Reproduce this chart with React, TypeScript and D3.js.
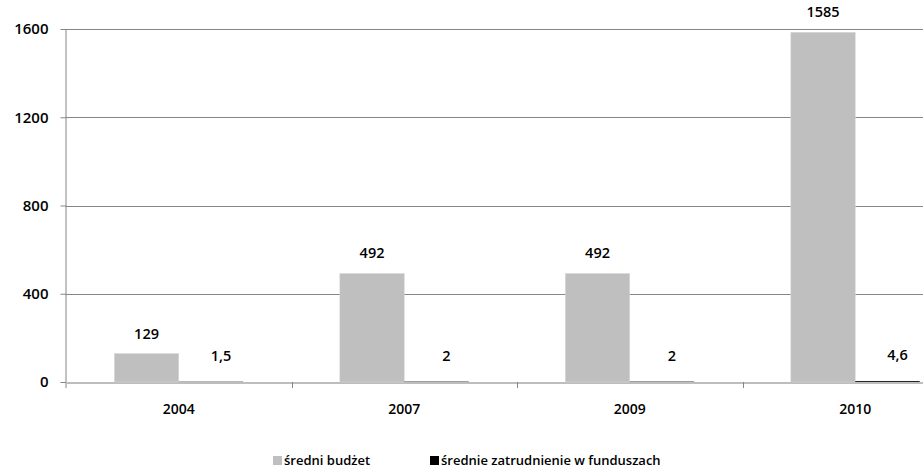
import React, { useRef, useEffect } from 'react';
import * as d3 from 'd3';

const categories = ['2004', '2007', '2009', '2010'];
const budget = [129, 492, 492, 1585];
const employment = [1.5, 2, 2, 4.6];
const seriesNames = ['średni budżet', 'średnie zatrudnienie w funduszach'];
const yTicks = [0, 400, 800, 1200, 1600];

const WIDTH = 923;
const HEIGHT = 470;
const FONT = '"Open Sans", sans-serif';

const App: React.FC = () => {
    const ref = useRef<SVGSVGElement>(null);

    useEffect(() => {
        if (!ref.current) return;
        const svg = d3.select(ref.current);
        svg.selectAll('*').remove();

        const left = 66;
        const step = 225.5;
        const x0 = d3.scaleBand()
            .domain(categories)
            .range([left, left + step * categories.length])
            .padding(0);

        const x1 = d3.scaleBand()
            .domain(seriesNames)
            .range([0, x0.bandwidth()])
            .paddingInner(0)
            .paddingOuter(0.75);

        const y = d3.scaleLinear()
            .domain([0, 1600])
            .range([382, 29]);

        const colors = ['#bfbfbf', '#262626'];

        // grid
        svg.append('g')
            .selectAll('line')
            .data(yTicks.filter(t => t > 0))
            .enter()
            .append('line')
            .attr('x1', left)
            .attr('x2', WIDTH)
            .attr('y1', d => Math.round(y(d)) + 0.5)
            .attr('y2', d => Math.round(y(d)) + 0.5)
            .attr('stroke', '#868686')
            .attr('stroke-width', 1);

        // y axis
        const yAxis = svg.append('g')
            .attr('transform', `translate(${left + 0.5},0)`)
            .call(d3.axisLeft(y).tickValues(yTicks).tickSize(6).tickPadding(12).tickFormat(d3.format('d')));
        yAxis.select('.domain').attr('stroke', '#868686').attr('d', `M-0.5,${y(1600)}V${y(0) + 6}`);
        yAxis.selectAll('.tick line').attr('stroke', '#868686');
        yAxis.selectAll('text')
            .attr('font-family', FONT)
            .attr('font-size', 15)
            .attr('font-weight', 600)
            .attr('fill', '#000');

        // x baseline
        svg.append('line')
            .attr('x1', left)
            .attr('x2', WIDTH)
            .attr('y1', y(0) + 1)
            .attr('y2', y(0) + 1)
            .attr('stroke', '#bdbdbd')
            .attr('stroke-width', 2);

        // bars
        const groups = svg.append('g')
            .selectAll('g')
            .data(categories)
            .enter()
            .append('g')
            .attr('transform', d => `translate(${x0(d)},0)`);

        const values = [budget, employment];
        values.forEach((vals, si) => {
            groups.append('rect')
                .attr('x', x1(seriesNames[si])!)
                .attr('width', x1.bandwidth())
                .attr('y', (_, i) => y(vals[i]))
                .attr('height', (_, i) => y(0) - y(vals[i]))
                .attr('fill', colors[si])
                .attr('stroke', si === 0 ? '#d9d9d9' : 'none')
                .attr('stroke-width', 0.5);
        });

        // category ticks
        svg.append('g')
            .selectAll('line')
            .data(categories.slice(1))
            .enter()
            .append('line')
            .attr('x1', d => Math.round(x0(d)!) + 0.5)
            .attr('x2', d => Math.round(x0(d)!) + 0.5)
            .attr('y1', y(0))
            .attr('y2', y(0) + 6)
            .attr('stroke', '#868686');

        svg.append('g')
            .selectAll('text')
            .data(categories)
            .enter()
            .append('text')
            .attr('x', d => x0(d)! + x0.bandwidth() / 2)
            .attr('y', 414)
            .attr('text-anchor', 'middle')
            .attr('font-family', FONT)
            .attr('font-size', 14)
            .attr('font-weight', 600)
            .text(d => d);

        // value labels
        const fmt = (v: number) => String(v).replace('.', ',');
        groups.append('text')
            .attr('x', x1(seriesNames[0])! + x1.bandwidth() / 2)
            .attr('y', (_, i) => y(budget[i]) - 15)
            .attr('text-anchor', 'middle')
            .attr('font-family', FONT)
            .attr('font-size', 14.5)
            .attr('font-weight', 600)
            .text((_, i) => fmt(budget[i]));

        groups.append('text')
            .attr('x', x1(seriesNames[1])! + x1.bandwidth() / 2 + 10)
            .attr('y', (_, i) => y(employment[i]) - 21)
            .attr('text-anchor', 'middle')
            .attr('font-family', FONT)
            .attr('font-size', 14.5)
            .attr('font-weight', 600)
            .text((_, i) => fmt(employment[i]));

        // legend
        const legendPos = [273, 430];
        const legend = svg.append('g')
            .selectAll('g')
            .data(seriesNames)
            .enter()
            .append('g')
            .attr('transform', (_, i) => `translate(${legendPos[i]},456)`);
        legend.append('rect')
            .attr('width', 9)
            .attr('height', 9)
            .attr('fill', (_, i) => i === 0 ? colors[0] : '#000');
        legend.append('text')
            .attr('x', 11)
            .attr('y', 9)
            .attr('font-family', FONT)
            .attr('font-size', 13)
            .attr('font-weight', 600)
            .text(d => d);
    }, []);

    return (
        <svg
            ref={ref}
            width={WIDTH}
            height={HEIGHT}
            style={{ position: 'absolute', left: 0, top: 0, background: '#fff' }}
        />
    );
};

export default App;
